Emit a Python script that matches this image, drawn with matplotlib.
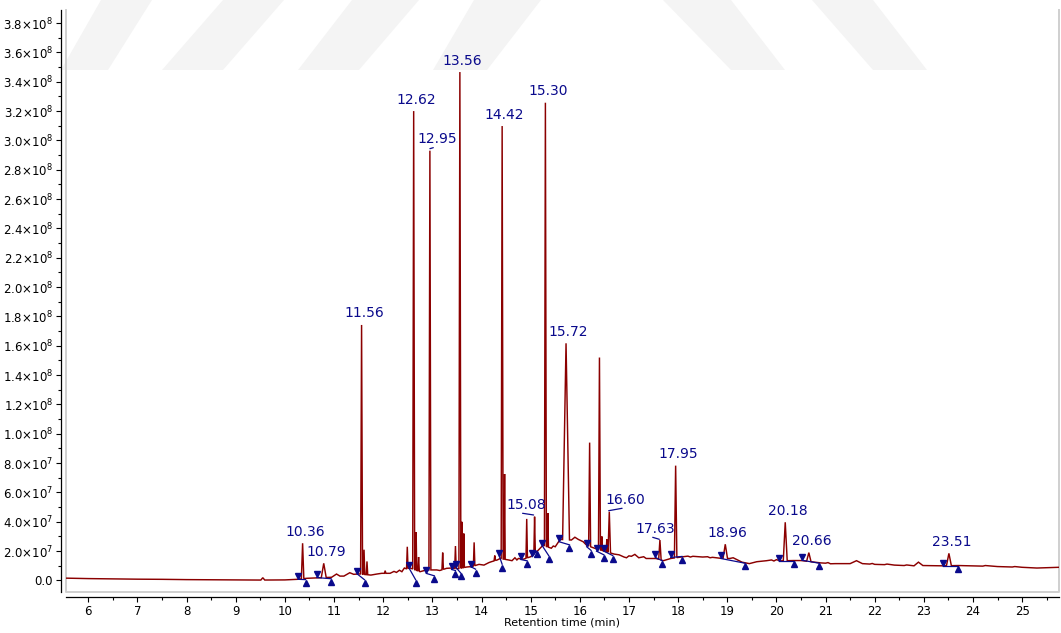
import numpy as np
import matplotlib
matplotlib.use("Agg")
import matplotlib.pyplot as plt
from matplotlib.transforms import offset_copy
from matplotlib.patches import Polygon
from matplotlib.ticker import MultipleLocator, FuncFormatter

# ---- chromatogram baseline (time in min, abundance in units of 1e7) ----
base_time = [5.55, 6.0, 6.5, 7.0, 7.5, 8.0, 8.5, 9.0, 9.5, 10.0, 10.25, 10.45,
             10.65, 10.95, 11.05, 11.12, 11.2, 11.32, 11.4, 11.5, 11.75, 11.87,
             11.97, 12.14, 12.22, 12.27, 12.33, 12.38, 12.43, 12.47, 12.55,
             12.75, 12.88, 13.09, 13.15, 13.29, 13.4, 13.52, 13.7, 13.8, 13.95,
             14.05, 14.15, 14.2, 14.32, 14.38, 14.55, 14.62, 14.68, 14.72, 14.75,
             14.85, 15.0, 15.15, 15.25, 15.42, 15.46, 15.5, 15.6, 15.83, 15.9,
             15.97, 16.07, 16.14, 16.3, 16.5, 16.7, 16.8, 16.9, 16.95, 17.0,
             17.05, 17.12, 17.2, 17.3, 17.35, 17.4, 17.55, 17.7, 17.85, 18.1,
             18.2, 18.25, 18.3, 18.5, 18.6, 18.65, 18.7, 18.85, 19.05, 19.12,
             19.3, 19.45, 19.6, 19.8, 19.9, 19.95, 20.0, 20.08, 20.35, 20.5,
             20.9, 21.0, 21.05, 21.1, 21.2, 21.5, 21.63, 21.75, 21.9, 21.95,
             22.0, 22.2, 22.25, 22.4, 22.6, 22.65, 22.8, 22.89, 22.98, 23.38,
             23.7, 24.0, 24.2, 24.25, 24.5, 24.8, 24.85, 25.0, 25.3, 25.75]
base_signal = [0.16, 0.13, 0.11, 0.09, 0.08, 0.06, 0.05, 0.04, 0.03, 0.04, 0.08,
               0.15, 0.18, 0.22, 0.44, 0.3, 0.3, 0.53, 0.42, 0.45, 0.37, 0.44,
               0.49, 0.49, 0.62, 0.55, 0.7, 0.6, 0.85, 0.8, 0.85, 0.6, 0.72,
               0.72, 0.68, 0.83, 0.85, 0.8, 0.92, 0.95, 1.1, 1.05, 1.22, 1.28,
               1.4, 1.5, 1.4, 1.35, 1.55, 1.4, 1.5, 1.45, 1.62, 2.05, 2.4, 2.2,
               2.35, 2.3, 2.8, 2.76, 2.95, 2.8, 2.64, 2.4, 2.2, 2.0, 1.8, 1.75,
               1.6, 1.55, 1.68, 1.65, 1.78, 1.55, 1.62, 1.5, 1.5, 1.5, 1.35, 1.5,
               1.62, 1.66, 1.6, 1.65, 1.6, 1.62, 1.55, 1.58, 1.52, 1.5, 1.55,
               1.25, 1.15, 1.28, 1.35, 1.4, 1.33, 1.42, 1.34, 1.36, 1.36, 1.2,
               1.18, 1.22, 1.14, 1.15, 1.15, 1.35, 1.15, 1.12, 1.16, 1.1, 1.08,
               1.12, 1.05, 1.02, 1.06, 1.0, 1.25, 1.02, 1.0, 1.02, 1.0, 0.98,
               1.02, 0.95, 0.92, 0.95, 0.9, 0.85, 0.9]

# ---- resolved peaks: apex time (min), apex abundance (1e7), half base width (min) ----
peak_time = [9.55, 10.36, 10.79, 11.56, 11.61, 11.67, 12.04, 12.49, 12.62, 12.67,
             12.72, 12.95, 13.21, 13.47, 13.56, 13.60, 13.64, 13.85, 14.27, 14.42,
             14.47, 14.92, 15.08, 15.30, 15.35, 15.72, 16.20, 16.40, 16.45, 16.55,
             16.60, 17.63, 17.95, 18.96, 20.18, 20.66, 23.51]
peak_height = [0.19, 2.54, 1.17, 17.42, 2.1, 1.3, 0.67, 2.3, 32.0, 3.3,
               1.6, 29.3, 1.9, 2.35, 34.66, 4.0, 3.2, 2.6, 1.7, 30.98,
               7.26, 4.2, 4.35, 32.57, 4.6, 16.17, 9.4, 15.2, 3.0, 2.8,
               4.69, 2.76, 7.83, 2.47, 3.97, 1.9, 1.85]
peak_halfwidth = [0.04, 0.025, 0.05, 0.02, 0.015, 0.015, 0.015, 0.015, 0.02, 0.012,
                  0.015, 0.02, 0.015, 0.015, 0.02, 0.012, 0.012, 0.015, 0.015, 0.02,
                  0.012, 0.015, 0.015, 0.02, 0.012, 0.07, 0.02, 0.02, 0.012, 0.015,
                  0.025, 0.025, 0.025, 0.045, 0.04, 0.045, 0.05]

# ---- annotated retention times ----
label_time = [10.36, 10.79, 11.56, 12.62, 12.95, 13.56, 14.42, 15.08, 15.30,
              15.72, 16.60, 17.63, 17.95, 18.96, 20.18, 20.66, 23.51]

# ---- integration events: start / end time (min) and abundance (1e7) ----
int_start_time = [10.27, 10.65, 11.47, 12.53, 12.88, 13.39, 13.48, 13.79, 14.36,
                  14.80, 15.03, 15.24, 15.58, 16.14, 16.34, 16.49, 17.54, 17.85,
                  18.87, 20.06, 20.52, 23.38]
int_start_signal = [0.08, 0.2, 0.45, 0.82, 0.48, 0.75, 0.89, 0.93, 1.68,
                    1.43, 1.62, 2.35, 2.64, 2.3, 2.0, 2.0, 1.57, 1.57,
                    1.5, 1.34, 1.38, 1.0]
int_end_time = [10.42, 10.94, 11.62, 12.66, 13.04, 13.47, 13.58, 13.88, 14.42,
                14.93, 15.12, 15.37, 15.79, 16.23, 16.49, 16.67, 17.68, 18.08,
                19.36, 20.36, 20.87, 23.69]
int_end_signal = [0.06, 0.12, 0.05, 0.05, 0.32, 0.68, 0.5, 0.77, 1.11,
                  1.34, 2.0, 1.68, 2.43, 2.05, 1.75, 1.7, 1.34, 1.64,
                  1.18, 1.34, 1.18, 1.0]

SCALE = 1e7
TRACE = "#8b0000"
MARK = "#0a0a8c"

# ---- assemble the trace vertices ----
bt = np.asarray(base_time)
bs = np.asarray(base_signal) * SCALE
keep = np.ones(bt.size, dtype=bool)
for t, w in zip(peak_time, peak_halfwidth):
    keep &= ~((bt > t - w) & (bt < t + w))
vt = list(bt[keep])
vs = list(bs[keep])
for t, h, w in zip(peak_time, peak_height, peak_halfwidth):
    for foot in (t - w, t + w):
        vt.append(foot)
        vs.append(np.interp(foot, bt, bs))
    vt.append(t)
    vs.append(h * SCALE)
order = np.argsort(vt, kind="stable")
vt = np.asarray(vt)[order]
vs = np.asarray(vs)[order]

fig = plt.figure(figsize=(10.61, 6.33), dpi=100)
fig.patch.set_facecolor("white")

# faint background watermark stripes (figure pixels, y measured from top)
stripes = [
    [(101, 0), (152, 0), (108, 70), (61, 70)],
    [(223, 0), (284, 0), (223, 70), (162, 70)],
    [(352, 0), (419, 0), (359, 70), (298, 70)],
    [(474, 0), (541, 0), (487, 70), (433, 70)],
    [(663, 0), (731, 0), (785, 70), (731, 70)],
    [(812, 0), (873, 0), (927, 70), (873, 70)],
]
W, H = 1061.0, 633.0
for poly in stripes:
    pts = [(x / W, 1 - y / H) for x, y in poly]
    fig.patches.append(Polygon(pts, closed=True, transform=fig.transFigure,
                               facecolor="#f4f4f4", edgecolor="none", zorder=-5))

ax = fig.add_axes([66 / W, (H - 592) / H, (1059 - 66) / W, (592 - 10) / H])
ax.patch.set_visible(False)

ax.plot(vt, vs, color=TRACE, lw=1.05, zorder=3, solid_joinstyle="miter")

# integration baselines and start/end markers
for ts, ss, te, se in zip(int_start_time, int_start_signal, int_end_time, int_end_signal):
    ax.plot([ts, te], [ss * SCALE, se * SCALE], color=MARK, lw=0.9, zorder=4)
down_tr = offset_copy(ax.transData, fig=fig, x=0, y=3.3, units="dots")
up_tr = offset_copy(ax.transData, fig=fig, x=0, y=-3.3, units="dots")
ax.plot(int_start_time, np.asarray(int_start_signal) * SCALE, ls="none", marker="v",
        ms=4.7, color=MARK, mec=MARK, transform=down_tr, zorder=5)
ax.plot(int_end_time, np.asarray(int_end_signal) * SCALE, ls="none", marker="^",
        ms=4.7, color=MARK, mec=MARK, transform=up_tr, zorder=5)

# peak labels, some shifted sideways with a short leader line
label_dx = {12.95: 7.6, 15.08: -8.6, 16.60: 15.8, 17.63: -4.2}
leaders = {
    12.95: ((0.0, 2.0), (3.4, 3.0)),
    15.08: ((-12.0, 3.4), (-1.0, 1.7)),
    16.60: ((-0.6, 1.0), (12.8, 3.4)),
    17.63: ((-7.2, 2.7), (-0.6, 0.7)),
}
height_of = dict(zip(peak_time, peak_height))
for t in label_time:
    h = height_of[t] * SCALE
    dx = label_dx.get(t, 2.5)
    tr = offset_copy(ax.transData, fig=fig, x=dx, y=11.5, units="dots")
    ax.text(t, h, f"{t:.2f}", transform=tr, ha="center", va="center",
            fontsize=10, color=MARK, zorder=6)
    if t in leaders:
        (x0, y0), (x1, y1) = leaders[t]
        ax.annotate("", xy=(t, h),
                    xycoords=offset_copy(ax.transData, fig=fig, x=x0, y=y0, units="dots"),
                    xytext=(x1 - x0, y1 - y0), textcoords="offset pixels",
                    arrowprops=dict(arrowstyle="-", color=MARK, lw=0.9,
                                    shrinkA=0, shrinkB=0))

# axes
ax.set_xlim(5.546, 25.75)
ax.set_ylim(-0.0784e8, 3.889e8)
ax.xaxis.set_major_locator(MultipleLocator(1))
ax.xaxis.set_minor_locator(MultipleLocator(0.5))
ax.yaxis.set_major_locator(MultipleLocator(2e7))
ax.yaxis.set_minor_locator(MultipleLocator(1e7))


def sci_label(v, pos):
    if abs(v) < 1:
        return "0.0"
    e = int(np.floor(np.log10(abs(v)) + 1e-9))
    return f"{v / 10 ** e:.1f}×10$^{{{e}}}$"


ax.yaxis.set_major_formatter(FuncFormatter(sci_label))
ax.tick_params(axis="both", which="major", direction="out", length=3.6, width=0.8,
               labelsize=8.5, pad=2, colors="black")
ax.tick_params(axis="both", which="minor", direction="out", length=2.2, width=0.8)

for side in ("top", "right"):
    ax.spines[side].set_visible(False)
for side in ("left", "bottom"):
    ax.spines[side].set_position(("outward", 3.6))
    ax.spines[side].set_linewidth(0.9)
    ax.spines[side].set_color("black")

# light grey plotting frame
ax.plot([0, 0, 1, 1], [1, 0, 0, 1], transform=ax.transAxes, color="#cfcfcf",
        lw=1.4, clip_on=False, zorder=1)

ax.set_xlabel("Retention time (min)", fontsize=8, labelpad=0)

fig.savefig("out.png", dpi=100)
